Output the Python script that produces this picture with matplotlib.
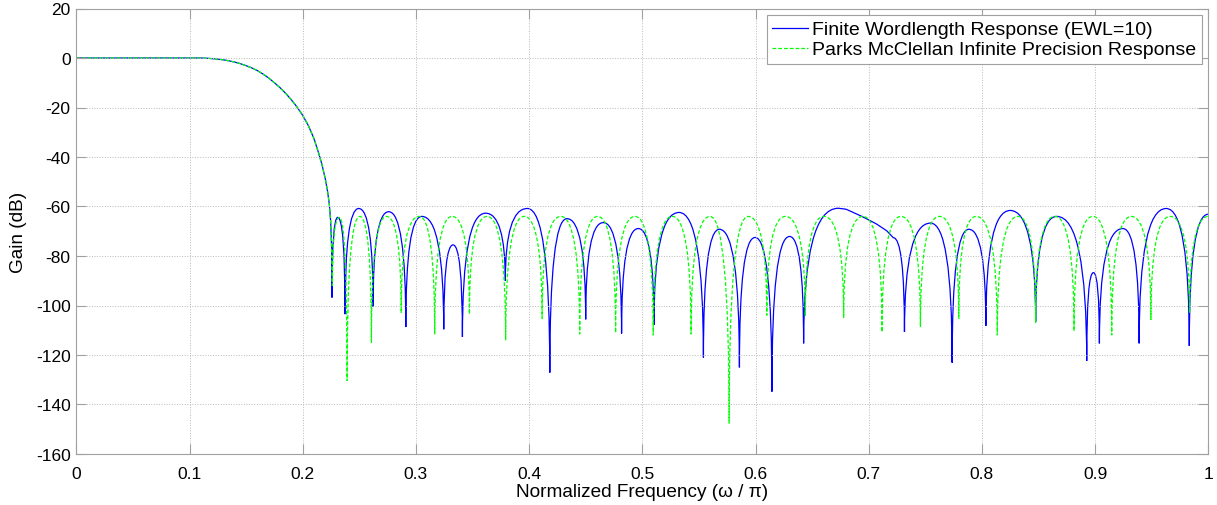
import matplotlib
matplotlib.use("Agg")
import matplotlib.pyplot as plt
from matplotlib.path import Path
from matplotlib.patches import PathPatch
from matplotlib.lines import Line2D
from matplotlib.ticker import MultipleLocator, FormatStrFormatter

plt.rcParams['font.family'] = ['Liberation Sans', 'DejaVu Sans']
plt.rcParams['axes.unicode_minus'] = False

# passband + transition band, same for both responses
trans_f = [0.0, 0.05, 0.1093, 0.115, 0.120, 0.125, 0.130, 0.135, 0.140, 0.145,
           0.150, 0.155, 0.160, 0.165, 0.170, 0.175, 0.180, 0.185, 0.190, 0.195,
           0.200, 0.205, 0.210, 0.214, 0.217, 0.220, 0.222, 0.2235, 0.2247, 0.2255]
trans_db = [0.0, 0.0, 0.0, -0.1, -0.25, -0.45, -0.75, -1.15, -1.65, -2.3,
            -3.1, -4.0, -5.1, -6.5, -8.1, -10.0, -12.0, -14.3, -16.9, -19.8,
            -23.2, -27.3, -32.6, -38.3, -43.0, -48.9, -54.0, -59.0, -66.0, -76.0]

# stopband, finite wordlength filter: n = null, p = lobe peak, s = plain point
fw_f = [0.2259, 0.2309, 0.2374, 0.2495, 0.2622, 0.2760, 0.2911, 0.3053, 0.3246,
        0.3328, 0.3411, 0.3615, 0.3790, 0.3985, 0.4183, 0.4334, 0.4500, 0.4655,
        0.4817, 0.4965, 0.5103, 0.5325, 0.5540, 0.5681, 0.5858, 0.5997, 0.6145,
        0.6301, 0.6425, 0.6732, 0.6800, 0.6863, 0.6930, 0.6996, 0.7070, 0.7159,
        0.7217, 0.7316, 0.7546, 0.7737, 0.7885, 0.8035, 0.8250, 0.8475,
        0.8661, 0.8926, 0.8985, 0.9038, 0.9245, 0.9389, 0.9628, 0.9832, 1.0]
fw_db = [-96.8, -64.4, -103.5, -60.8, -100.5, -62.1, -108.7, -64.0, -109.6,
         -75.5, -112.7, -62.7, -90.0, -60.8, -127.1, -64.9, -105.6, -66.5,
         -111.3, -68.9, -107.8, -62.4, -121.0, -69.2, -125.0, -72.5, -134.8,
         -72.1, -115.3, -60.7, -61.1, -62.4, -63.8, -65.3, -67.1, -69.8,
         -72.6, -110.7, -66.7, -123.1, -69.2, -108.2, -61.6, -106.5,
         -64.0, -122.4, -86.7, -115.3, -68.9, -115.3, -60.8, -116.3, -63.1]
fw_kind = "np" * 14 + "n" + "p" + "s" * 7 + "np" * 8

# stopband, Parks McClellan infinite precision (equiripple)
pm_f = [0.2262, 0.2325, 0.2392, 0.2505, 0.2607, 0.2740, 0.2870, 0.3030, 0.3166,
        0.3320, 0.3473, 0.3630, 0.3793, 0.3956, 0.4115, 0.4280, 0.4447, 0.4605,
        0.4764, 0.4935, 0.5097, 0.5265, 0.5431, 0.5599, 0.5767, 0.5935, 0.6100,
        0.6265, 0.6440, 0.6605, 0.6779, 0.6950, 0.7118, 0.7285, 0.7457, 0.7625,
        0.7796, 0.7950, 0.8136, 0.8320, 0.8475, 0.8645, 0.8814, 0.8980, 0.9147,
        0.9320, 0.9493, 0.9664, 0.9835, 1.0]
pm_db = [-92.0, -64.4, -130.5, -64.0, -115.0, -64.0, -103.0, -64.0, -111.6,
         -64.0, -103.5, -64.0, -114.0, -64.0, -105.3, -64.0, -111.6, -64.0,
         -111.0, -64.0, -112.0, -64.0, -111.6, -64.0, -147.6, -64.0, -104.0,
         -64.0, -104.2, -64.0, -105.0, -64.0, -110.7, -64.0, -108.7, -64.0,
         -105.3, -64.0, -112.0, -64.0, -107.0, -64.0, -110.3, -64.0, -112.0,
         -64.0, -105.8, -64.0, -103.0, -64.0]
pm_kind = "np" * 25


def response_path(f, db, kind):
    # lobes: vertical tangent at the null, flat at the peak
    f = trans_f + f
    db = trans_db + db
    kind = "t" * len(trans_f) + kind
    verts = [(f[0], db[0])]
    codes = [Path.MOVETO]
    for i in range(1, len(f)):
        if kind[i] == "n" and kind[i - 1] in "ps":
            verts += [(f[i], db[i - 1]), (f[i], db[i])]
            codes += [Path.CURVE3, Path.CURVE3]
        elif kind[i] == "p" and kind[i - 1] == "n":
            verts += [(f[i - 1], db[i]), (f[i], db[i])]
            codes += [Path.CURVE3, Path.CURVE3]
        else:
            verts.append((f[i], db[i]))
            codes.append(Path.LINETO)
    return Path(verts, codes)


fig = plt.figure(figsize=(12.17, 5.06), dpi=100)
ax = fig.add_axes([76.3 / 1217, 1 - 455 / 506, 1132 / 1217, 445.5 / 506])

green_dash = (0, (3, 1.6))
ax.add_patch(PathPatch(response_path(fw_f, fw_db, fw_kind), fill=False,
                       edgecolor='#0000ff', lw=0.9))
ax.add_patch(PathPatch(response_path(pm_f, pm_db, pm_kind), fill=False,
                       edgecolor='#00ff00', lw=0.9, linestyle=green_dash))

ax.set_xlim(0, 1)
ax.set_ylim(-160, 20)
ax.xaxis.set_major_locator(MultipleLocator(0.1))
ax.yaxis.set_major_locator(MultipleLocator(20))
ax.xaxis.set_major_formatter(FormatStrFormatter('%g'))
ax.grid(True, ls=':', color='#b8b8b8', lw=0.7)
ax.tick_params(direction='in', top=True, right=True, length=7.5,
               color='#a0a0a0', labelsize=12.5)
ax.tick_params(axis='x', pad=8.5)
ax.tick_params(axis='y', pad=4)
for s in ax.spines.values():
    s.set_color('#a0a0a0')

ax.set_xlabel('Normalized Frequency (ω / π)', fontsize=13.7)
ax.set_ylabel('Gain (dB)', fontsize=13.7)
ax.xaxis.set_label_coords(0.5, -0.065)
ax.yaxis.set_label_coords(-0.0436, 0.5)

handles = [Line2D([], [], color='#0000ff', lw=0.9),
           Line2D([], [], color='#00ff00', lw=0.9, linestyle=green_dash)]
leg = ax.legend(handles, ['Finite Wordlength Response (EWL=10)',
                          'Parks McClellan Infinite Precision Response'],
                loc='upper right', bbox_to_anchor=(1126 / 1132, 0.9855),
                borderaxespad=0, fancybox=False, framealpha=1,
                edgecolor='#a0a0a0', fontsize=14, handlelength=1.85,
                handletextpad=0.2, borderpad=0.3, labelspacing=0.12)
leg.get_frame().set_linewidth(0.8)

fig.savefig('out.png', dpi=100)
